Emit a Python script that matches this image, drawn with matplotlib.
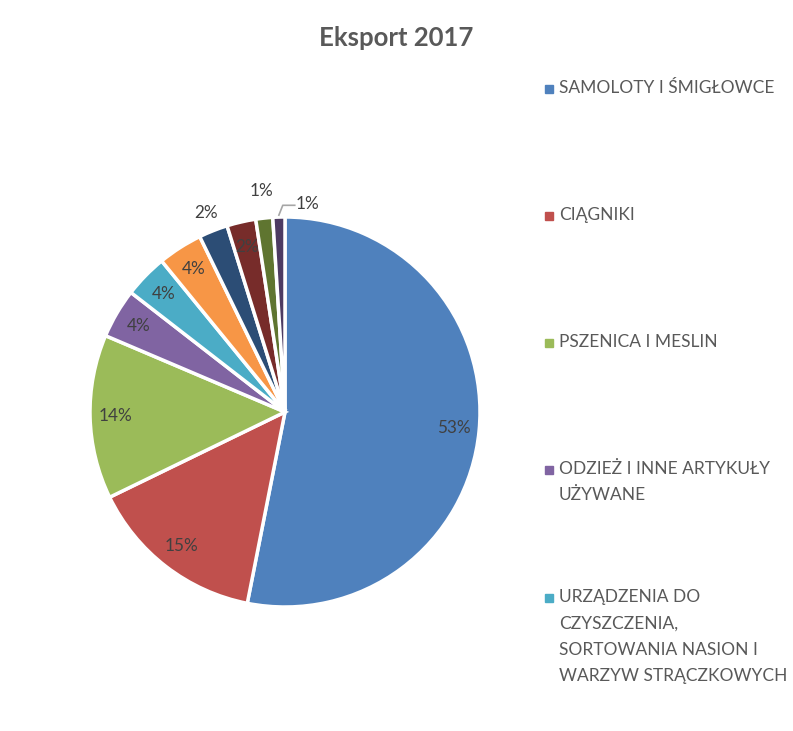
import numpy as np
import matplotlib.pyplot as plt
from matplotlib.patches import Rectangle

plt.rcParams['font.family'] = ['Lato', 'DejaVu Sans']

# data (share of export, %)
categories = ['SAMOLOTY I ŚMIGŁOWCE', 'CIĄGNIKI', 'PSZENICA I MESLIN',
              'ODZIEŻ I INNE ARTYKUŁY\nUŻYWANE',
              'URZĄDZENIA DO\nCZYSZCZENIA,\nSORTOWANIA NASION I\nWARZYW STRĄCZKOWYCH',
              'inne 6', 'inne 7', 'inne 8', 'inne 9', 'inne 10']
values = [53.1, 14.7, 13.6, 4.1, 3.6, 3.7, 2.4, 2.4, 1.4, 1.0]
colors = ['#4F81BD', '#C0504D', '#9BBB59', '#8064A2', '#4BACC6',
          '#F79646', '#2C4D75', '#772C2A', '#5F7530', '#4D3B62']
n_legend = 5  # only first entries fit in the legend

W, H = 793, 731
cx, cy, r = 285, 412, 195
fig = plt.figure(figsize=(W / 100, H / 100), dpi=100)
ax = fig.add_axes([(cx - r) / W, (H - cy - r) / H, 2 * r / W, 2 * r / H])

wedges, _ = ax.pie(values, colors=colors, startangle=90, counterclock=False,
                   radius=1, wedgeprops=dict(edgecolor='white', linewidth=2.5))
ax.set_xlim(-1, 1)
ax.set_ylim(-1, 1)
ax.set_aspect('equal')
ax.axis('off')

txtcol = '#404040'
total = sum(values)
for i, w in enumerate(wedges):
    ang = np.deg2rad((w.theta1 + w.theta2) / 2)
    lab = '%d%%' % round(values[i] / total * 100)
    if i == 6:
        d = 1.10
    elif i == 8:
        d = 1.14
    else:
        d = 0.87
    if i == 9:
        # leader line for the last slice
        x0, y0 = np.cos(ang), np.sin(ang)
        ax.plot([x0, x0 + 0.02, 0.05], [y0 + 0.01, 1.06, 1.06], color='#A6A6A6',
                lw=1.2, clip_on=False)
        ax.text(0.055, 1.065, lab, ha='left', va='center', fontsize=12.3, color=txtcol)
        continue
    ax.text(np.cos(ang) * d, np.sin(ang) * d, lab, ha='center', va='center',
            fontsize=12.3, color=txtcol)

fig.text(396 / W, 1 - 38 / H, 'Eksport 2017', ha='center', va='center',
         fontsize=18.5, fontweight='bold', color='#595959')

# legend
y_starts = [89, 216, 343, 470, 598]
for i in range(n_legend):
    y = y_starts[i]
    fig.patches.append(Rectangle((545 / W, 1 - (y + 4) / H), 8 / W, 8 / H,
                                 transform=fig.transFigure, color=colors[i]))
    fig.text(559 / W, 1 - (y - 9) / H, categories[i], ha='left', va='top',
             fontsize=12.5, color='#595959', linespacing=1.8)

fig.savefig('out.png', dpi=100)
